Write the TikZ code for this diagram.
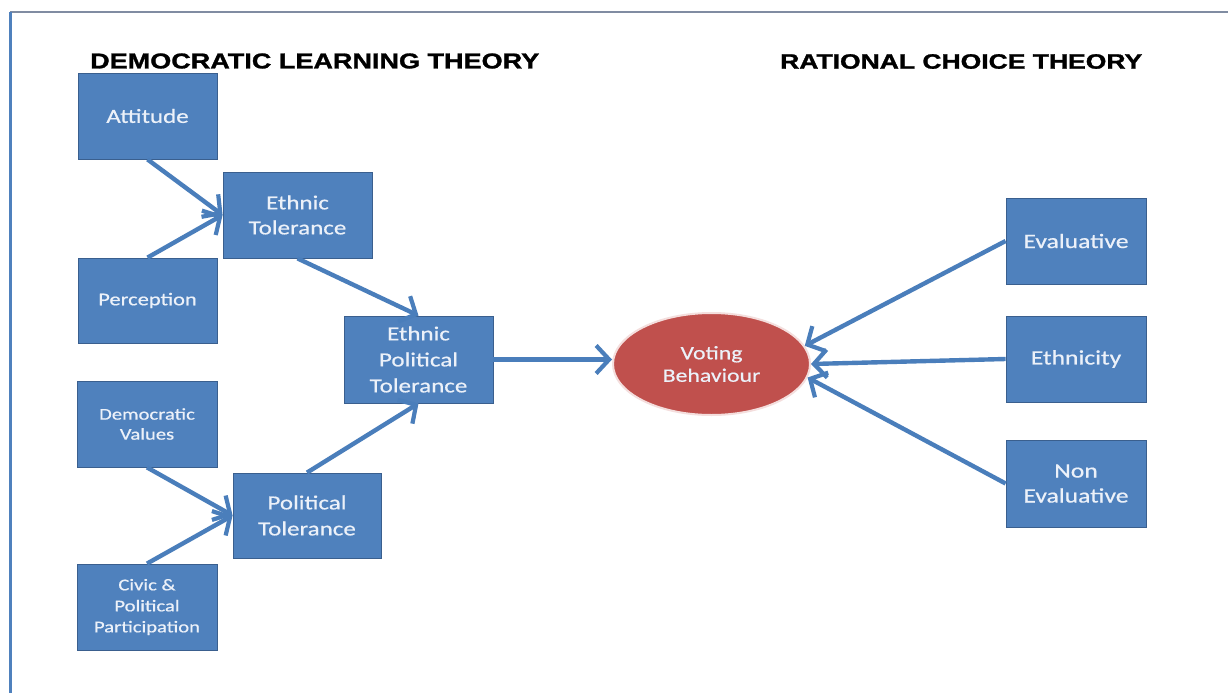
\documentclass[tikz,border=0pt]{standalone}
\usepackage{fontspec}
\usepackage{graphicx}
\usetikzlibrary{arrows.meta,shapes.geometric}
\newfontfamily\boxfont[FakeStretch=1.25,FakeBold=0.6]{Carlito}
\newfontfamily\titlefont[BoldFeatures={FakeBold=1.2}]{Liberation Sans}
\definecolor{boxblue}{RGB}{79,129,189}
\definecolor{boxedge}{RGB}{58,95,142}
\definecolor{arrowblue}{RGB}{74,126,187}
\definecolor{boxtext}{RGB}{236,241,249}
\definecolor{ovalred}{RGB}{192,80,77}
\definecolor{ovaledge}{RGB}{244,222,221}
\definecolor{framegray}{RGB}{128,140,162}
\tikzset{
  bluebox/.style={rectangle, fill=boxblue, draw=boxedge, line width=0.8pt,
    inner sep=0pt, text=boxtext, align=center, font=\boxfont\fontsize{20}{25}\selectfont},
  smallbox/.style={bluebox, font=\boxfont\fontsize{16.5}{21}\selectfont},
  oval/.style={ellipse, fill=ovalred, draw=ovaledge, line width=2pt, inner sep=0pt,
    text=boxtext, align=center, font=\boxfont\fontsize{19}{22.5}\selectfont},
  link/.style={draw=arrowblue, line width=4.4pt,
    -{Straight Barb[length=13pt,width=28pt,line width=4.2pt]}},
  heading/.style={inner sep=0pt, text=black}
}
\begin{document}
\begin{tikzpicture}[x=1pt,y=-1pt]
\useasboundingbox (0,0) rectangle (1228,693);
\fill[white] (0,0) rectangle (1228,693);
% frame
\coordinate (fl) at (10,12);
\coordinate (fr) at (1228,12);
\coordinate (fb) at (10,693);
\draw[framegray, line width=1.6pt] (fl) -- (fr);
\draw[boxblue, line width=3pt] (fl) -- (fb);
% headings
\node[heading, anchor=west] (h1) at (90,61) {\resizebox{449pt}{15pt}{\titlefont\bfseries DEMOCRATIC LEARNING THEORY}};
\node[heading, anchor=west] (h2) at (780,61.5) {\resizebox{362pt}{14.5pt}{\titlefont\bfseries RATIONAL CHOICE THEORY}};
% boxes
\node[bluebox, minimum width=139pt, minimum height=86pt, font=\boxfont\fontsize{20}{24}\selectfont] (att) at (147.5,116) {Attitude};
\node[bluebox, minimum width=139pt, minimum height=85pt, font=\boxfont\fontsize{18}{22}\selectfont] (per) at (147.5,300.5) {Perception};
\node[bluebox, minimum width=149pt, minimum height=86pt] (et) at (297.5,215) {Ethnic\\Tolerance};
\node[bluebox, minimum width=149pt, minimum height=87pt, font=\boxfont\fontsize{20}{26}\selectfont] (ept) at (418.5,359.5) {Ethnic\\Political\\Tolerance};
\node[smallbox, minimum width=140pt, minimum height=86pt, font=\boxfont\fontsize{16.5}{20}\selectfont] (dv) at (147,424) {Democratic\\Values};
\node[bluebox, minimum width=148pt, minimum height=85pt, font=\boxfont\fontsize{20}{26}\selectfont] (pt) at (307,515.5) {Political\\Tolerance};
\node[smallbox, minimum width=140pt, minimum height=86pt] (civ) at (147,607) {Civic \&\\Political\\Participation};
\node[bluebox, minimum width=140pt, minimum height=86pt, font=\boxfont\fontsize{20.5}{25}\selectfont] (ev) at (1076,241) {Evaluative};
\node[bluebox, minimum width=140pt, minimum height=86pt, font=\boxfont\fontsize{20.5}{25}\selectfont] (eth) at (1076,359) {Ethnicity};
\node[bluebox, minimum width=140pt, minimum height=87pt, font=\boxfont\fontsize{20.5}{25}\selectfont] (nev) at (1076,483.5) {Non\\Evaluative};
\node[oval, minimum width=197pt, minimum height=102pt] (vb) at (711.5,364) {Voting\\Behaviour};
% connectors
\draw[link] (att.south) -- (et.west);
\draw[link] (per.north) -- (et.west);
\draw[link] (et.south) -- (ept.north);
\draw[link] (dv.south) -- (pt.west);
\draw[link] (civ.north) -- (pt.west);
\draw[link] (pt.north) -- (ept.south);
\draw[link] (ept.east) -- (ept.east -| vb.west);
\draw[link] (ev.west) -- (vb.11);
\draw[link] (eth.west) -- (vb.east);
\draw[link] (nev.west) -- (vb.-8);
\end{tikzpicture}
\end{document}
